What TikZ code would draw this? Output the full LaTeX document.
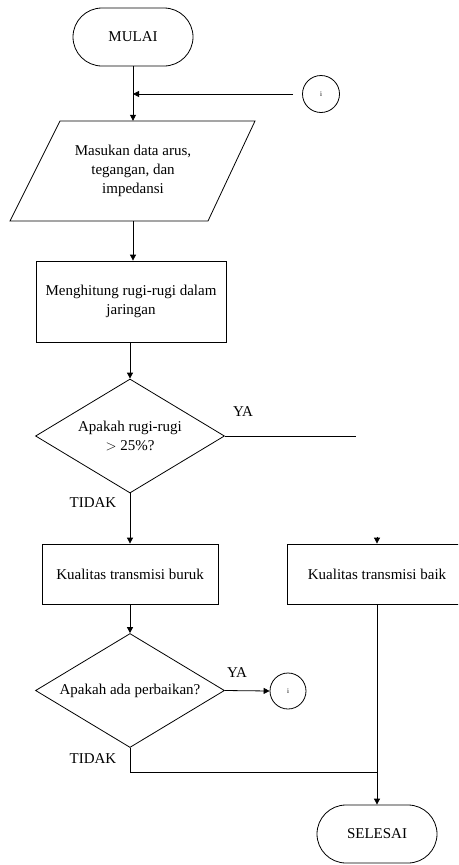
\documentclass[tikz,border=0pt]{standalone}
\usepackage{fontspec}
\setmainfont{Liberation Serif}
\usetikzlibrary{arrows.meta,shapes.geometric}
\begin{document}
\begin{tikzpicture}[x=1pt,y=-1pt,
  every node/.style={font=\fontsize{15pt}{19pt}\selectfont, inner sep=0pt, align=center},
  line/.style={line width=0.8pt, black},
  arr/.style={line, -{Triangle[length=6pt,width=6pt]}},
  term/.style={draw, line width=0.8pt, rounded corners=29pt, minimum width=120pt, minimum height=58pt},
  box/.style={draw, line width=0.8pt, rectangle},
  dec/.style={draw, line width=0.8pt, diamond, aspect=1.66, minimum width=189pt, minimum height=114pt},
  conn/.style={draw, line width=0.8pt, circle, minimum size=37pt, font=\fontsize{7pt}{8pt}\selectfont},
  lbl/.style={font=\fontsize{15pt}{19pt}\selectfont}
]
\clip (0,0) rectangle (458,865);
\useasboundingbox (0,0) rectangle (458,865);

% nodes
\node[term] (mulai) at (133,37) {MULAI};
\node[conn] (c1) at (321,94) {i};
\node[minimum width=150pt, minimum height=100pt] (inp) at (133,171)
  {Masukan data arus,\\tegangan, dan\\impedansi};
\draw[line] (60,121) -- (255,121) -- (208,221) -- (10,221) -- cycle;
\node[box, minimum width=190pt, minimum height=81pt] (proc) at (131,301.5)
  {Menghitung rugi-rugi dalam\\jaringan};
\node[dec] (d1) at (130,436) {Apakah rugi-rugi\\$>$ 25\%?};
\node[box, minimum width=176pt, minimum height=60pt] (r2) at (130,574)
  {Kualitas transmisi buruk};
\node[box, minimum width=180pt, minimum height=60pt] (r3) at (377,574)
  {Kualitas transmisi baik};
\node[dec] (d2) at (130,690.5) {Apakah ada perbaikan?};
\node[conn, minimum size=36pt] (c2) at (288,691) {i};
\node[term] (selesai) at (377,834) {SELESAI};

% labels
\node[lbl] (ya1) at (243,412) {YA};
\node[lbl] (tidak1) at (93,503) {TIDAK};
\node[lbl] (ya2) at (237,673) {YA};
\node[lbl] (tidak2) at (93,759) {TIDAK};

% coordinates
\coordinate (yaend) at (356,436);
\coordinate (c1start) at (293,94);
\coordinate (join) at (377,772);

% connectors
\draw[arr] (mulai.south) -- (mulai.south |- inp.north);
\draw[arr] (c1start) -- (mulai.south |- c1start);
\draw[arr] (inp.south) -- (inp.south |- proc.north);
\draw[arr] (d1.north |- proc.south) -- (d1.north);
\draw[line] (d1.east) -- (d1.east -| yaend);
\draw[arr] (d1.south) -- (r2.north);
\draw[arr] ([yshift=7pt]r3.north) -- (r3.north);
\draw[arr] (r2.south) -- (d2.north);
\draw[arr] (d2.east) -- (c2.west);
\draw[line] (d2.south) |- (join);
\draw[arr] (r3.south) -- (selesai.north);
\end{tikzpicture}
\end{document}
